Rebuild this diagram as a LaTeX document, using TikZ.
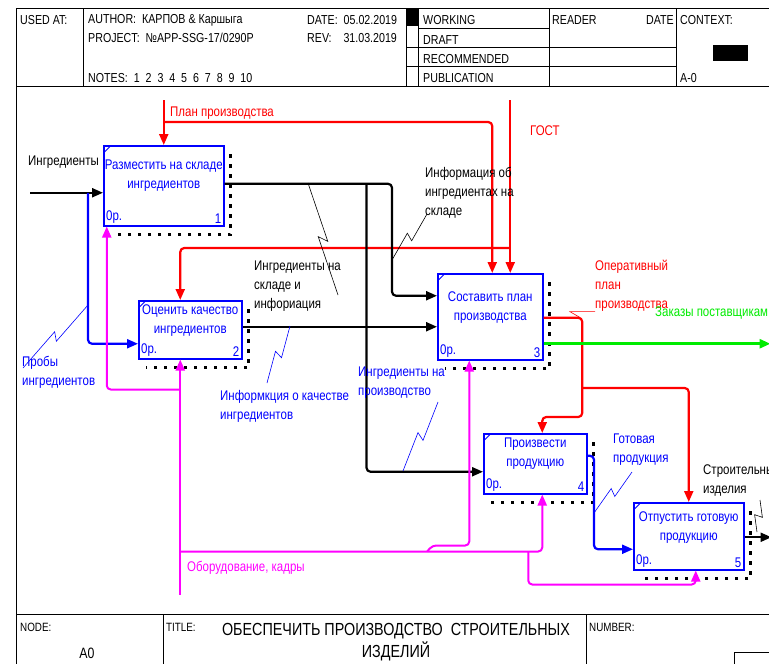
\documentclass[tikz,border=0pt]{standalone}
\usepackage{fontspec}
\setmainfont{Liberation Sans}[FakeStretch=0.82]
\usetikzlibrary{arrows.meta,calc}
\definecolor{fblue}{RGB}{0,0,255}
\definecolor{fred}{RGB}{255,0,0}
\definecolor{fmag}{RGB}{255,0,255}
\definecolor{fgreen}{RGB}{0,235,0}
\begin{document}
\begin{tikzpicture}[x=1pt,y=-1pt,font=\fontsize{14}{19}\selectfont,
  frame/.style={line width=0.8pt},
  head/.style={anchor=west,inner sep=0pt,font=\fontsize{13}{15}\selectfont},
  box/.style={draw=fblue,line width=1.5pt,anchor=north west,inner sep=0pt,
    path picture={\draw[fblue,line width=0.8pt] ([yshift=-7pt]path picture bounding box.north west) -- ([xshift=7pt]path picture bounding box.north west);},
    label={[fblue,anchor=south west,inner sep=3pt]south west:0р.}},
  ftitle/.style={fblue,align=center,inner sep=0pt},
  lbl/.style={anchor=north west,align=left,inner sep=0pt},
  boxshade/.style={line width=3.5pt,dash pattern=on 3.5pt off 6.5pt},
  arr/.style={line width=2.2pt,rounded corners=4pt,-{Triangle[length=11pt,width=9pt]}},
  karr/.style={arr,black},
  rarr/.style={arr,fred},
  barr/.style={arr,fblue},
  marr/.style={arr,fmag,line width=2pt},
  garr/.style={arr,fgreen,line width=2.8pt},
  lead/.style={line width=0.6pt,to path={-- ($(\tikztostart)!.53!(\tikztotarget)!4pt!90:(\tikztotarget)$) -- ($(\tikztostart)!.47!(\tikztotarget)!4pt!-90:(\tikztotarget)$) -- (\tikztotarget)}}]
\useasboundingbox (0,0) rectangle (769,664);

\draw[frame] (16,8) -- (769,8) (16,8) -- (16,664) (16,86) -- (769,86)
  (83,8) -- (83,86) (406,8) -- (406,86) (418,8) -- (418,86)
  (549,8) -- (549,86) (676,8) -- (676,86)
  (418,28) -- (549,28) (406,47) -- (676,47) (406,66) -- (676,66);
\fill (406,8) rectangle (418,26);
\fill (713,45) rectangle (748,61);
\draw[frame] (16,614) -- (769,614) (163,614) -- (163,664) (586,614) -- (586,664);
\draw[frame] (734,652) rectangle (772,668);

\node[head] (used) at (20,20) {USED AT:};
\node[head] (auth) at (88,20) {AUTHOR:\ \ КАРПОВ \& Каршыга};
\node[head] (proj) at (88,38) {PROJECT:\ \ №APP-SSG-17/0290P};
\node[head] (notes) at (88,78) {NOTES:\ \ 1\ \ 2\ \ 3\ \ 4\ \ 5\ \ 6\ \ 7\ \ 8\ \ 9\ \ 10};
\node[head] (date) at (307,20) {DATE:\ \ 05.02.2019};
\node[head] (rev) at (307,38) {REV:\ \ \ \ 31.03.2019};
\node[head] (work) at (423,20) {WORKING};
\node[head] (draft) at (423,40) {DRAFT};
\node[head] (recom) at (423,59) {RECOMMENDED};
\node[head] (publ) at (423,78) {PUBLICATION};
\node[head] (reader) at (552,20) {READER};
\node[head,anchor=east] (rdate) at (674,20) {DATE};
\node[head] (context) at (680,20) {CONTEXT:};
\node[head] (ctxnum) at (680,78) {A-0};
\node[head,font=\fontsize{12}{14}\selectfont] (nodelbl) at (20,627) {NODE:};
\node[head,anchor=center,font=\fontsize{15}{17}\selectfont] (nodenum) at (87,653) {A0};
\node[head,font=\fontsize{12}{14}\selectfont] (titlelbl) at (166,627) {TITLE:};
\node[align=center,inner sep=0pt,font=\fontsize{17.5}{22}\selectfont] (title) at (396,642) {ОБЕСПЕЧИТЬ ПРОИЗВОДСТВО\ \ СТРОИТЕЛЬНЫХ\\ИЗДЕЛИЙ};
\node[head,font=\fontsize{12}{14}\selectfont] (numlbl) at (589,627) {NUMBER:};

\node[box,minimum width=120pt,minimum height=80pt,label={[fblue,anchor=south east,inner sep=3pt]south east:1}] (b1) at (103,145) {};
\node[box,minimum width=103pt,minimum height=58pt,label={[fblue,anchor=south east,inner sep=3pt]south east:2}] (b2) at (138,300) {};
\node[box,minimum width=105pt,minimum height=86pt,label={[fblue,anchor=south east,inner sep=3pt]south east:3}] (b3) at (437,273) {};
\node[box,minimum width=103pt,minimum height=60pt,label={[fblue,anchor=south east,inner sep=3pt]south east:4}] (b4) at (483,433) {};
\node[box,minimum width=110pt,minimum height=67pt,label={[fblue,anchor=south east,inner sep=3pt]south east:5}] (b5) at (633,502) {};
\node[ftitle] (t1) at ($(b1.north)+(0,31)$) {Разместить на складе\\ингредиентов};
\node[ftitle] (t2) at ($(b2.north)+(0,21)$) {Оценить качество\\ингредиентов};
\node[ftitle] (t3) at ($(b3.north)+(0,35)$) {Составить план\\производства};
\node[ftitle] (t4) at ($(b4.north)+(0,21)$) {Произвести\\продукцию};
\node[ftitle] (t5) at ($(b5.north)+(0,26)$) {Отпустить готовую\\продукцию};
\foreach \b in {b1,b2,b3,b4,b5}
  \draw[boxshade] ([xshift=6pt,yshift=-9pt]\b.north east) -- ([xshift=6pt,yshift=-8pt]\b.south east) -- ([xshift=8pt,yshift=-8pt]\b.south west);

\coordinate (ing) at ($(b1.west)+(-73,7)$);
\coordinate (plan) at ($(b1.north)+(0,-45)$);
\coordinate (gost) at ($(b3.north)+(20,-173)$);
\coordinate (j1) at ($(b1.east)+(142,-2)$);
\coordinate (ord) at ($(b3.east)+(227,27)$);
\coordinate (prd) at ($(b5.east)+(27,1)$);
\coordinate (mech) at ($(b2.south)+(-10,235)$);

\draw[karr] (ing) -- ($(b1.west)+(0,7)$);
\draw[barr] ($(ing)+(58,0)$) |- ($(b2.west)+(0,14)$);
\draw[rarr] (plan) -- (b1.north);
\draw[rarr] ($(plan)+(0,22)$) -| ($(b3.north)+(2,0)$);
\draw[rarr] (gost) -- ($(b3.north)+(20,0)$);
\draw[rarr] ($(gost)+(0,148)$) -| ($(b2.north)+(-10,0)$);
\draw[karr] ($(b1.east)+(0,-2)$) -| ($(b3.west)+(-45,-21)$) -- ($(b3.west)+(0,-21)$);
\draw[karr] (j1) |- ($(b4.west)+(0,8)$);
\draw[karr] ($(b2.east)+(0,-3)$) -- ($(b3.west)+(0,10)$);
\draw[rarr] ($(b3.east)+(0,1)$) -| ($(b4.north)+(47,-16)$) -| ($(b4.north)+(7,0)$);
\draw[rarr] ($(b4.north)+(47,-45)$) -| (b5.north);
\draw[garr] ($(b3.east)+(0,27)$) -- (ord);
\draw[barr] ($(b4.east)+(0,-8)$) -| ($(b5.west)+(-39,13)$) -- ($(b5.west)+(0,13)$);
\draw[karr] ($(b5.east)+(0,1)$) -- (prd);
\draw[marr] (mech) -- ($(b2.south)+(-10,0)$);
\draw[marr] ($(b2.south)+(-10,30)$) -| ($(b1.south)+(-57,0)$);
\draw[marr] ($(mech)+(0,-43)$) -| ($(b4.south)+(7,0)$);
\draw[marr] ($(mech)+(247,-43)$) -- ++(5,-6) -| ($(b3.south)+(-21,0)$);
\draw[marr] ($(mech)+(348,-43)$) |- ($(b5.south)+(7,14)$) -- ($(b5.south)+(7,0)$);

\node[lbl] (ling) at (28,156) {Ингредиенты};
\node[lbl,fred] (lplan) at (170,107) {План производства};
\node[lbl,fred] (lgost) at (530,126) {ГОСТ};
\node[lbl,fblue] (lprb) at (22,356) {Пробы\\ингредиентов};
\node[lbl] (lsk) at (254,261) {Ингредиенты на\\складе и\\инфориация};
\node[lbl] (linf) at (425,167) {Информация об\\ингредиентах на\\складе};
\node[lbl,fblue] (lkach) at (220,390) {Информкция о качестве\\ингредиентов};
\node[lbl,fblue] (lpr) at (358,367) {Ингредиенты на\\производство};
\node[lbl,fred] (loper) at (595,260) {Оперативный\\план\\производства};
\node[lbl,fgreen] (lzak) at (655,307) {Заказы поставщикам};
\node[lbl,fblue] (lgot) at (613,434) {Готовая\\продукция};
\node[lbl] (lstr) at (703,465) {Строительные\\изделия};
\node[lbl,fmag] (lmech) at (187,561) {Оборудование, кадры};

\coordinate (e1) at (23,368);  \coordinate (f1) at (88,305);
\coordinate (e2) at (308,183); \coordinate (f2) at (338,295);
\coordinate (e3) at (427,214); \coordinate (f3) at (392,260);
\coordinate (e4) at (267,383); \coordinate (f4) at (290,326);
\coordinate (e5) at (438,402); \coordinate (f5) at (403,471);
\coordinate (e6) at (632,472); \coordinate (f6) at (594,513);
\coordinate (e7) at (760,500); \coordinate (f7) at (757,532);
\draw[lead,fblue] (e1) to (f1);
\draw[lead] (e2) to (f2);
\draw[lead] (e3) to (f3);
\draw[lead,fblue] (e4) to (f4);
\draw[lead,fblue] (e5) to (f5);
\draw[lead,fblue] (e6) to (f6);
\draw[lead] (e7) to (f7);
\draw[fred,line width=0.6pt] (loper.south west) -- ++(-25,0) -- ($(b3.east)+(37,1)$);
\end{tikzpicture}
\end{document}
